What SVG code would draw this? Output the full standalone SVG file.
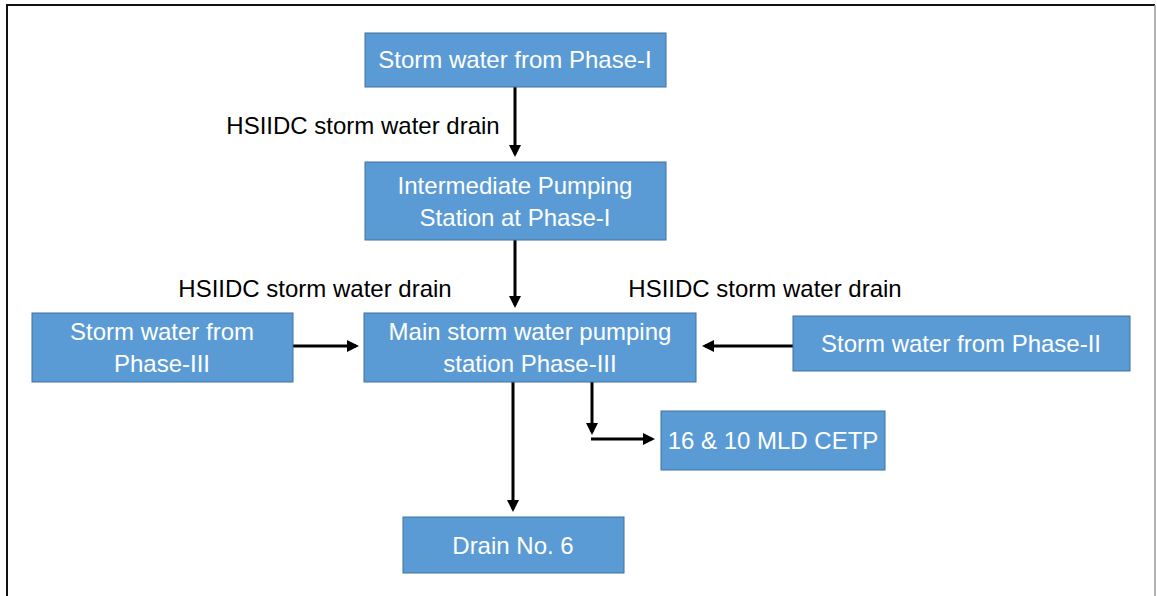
<svg xmlns="http://www.w3.org/2000/svg" width="1157" height="596" viewBox="0 0 1157 596">
<style>
.box{fill:#5B9BD5;stroke:#41719C;stroke-width:1}
.t{font-family:"Liberation Sans",Arial,sans-serif;font-size:24px;fill:#ffffff;text-anchor:middle}
.lbl{font-family:"Liberation Sans",Arial,sans-serif;font-size:24px;fill:#000000;text-anchor:middle}
.c{stroke:#000;stroke-width:3;fill:none}
</style>
<defs>
<marker id="ah" markerWidth="4" markerHeight="4" refX="3" refY="2" orient="auto" markerUnits="strokeWidth">
<path d="M0,0 L4,2 L0,4 Z" fill="#000"/>
</marker>
</defs>
<rect width="1157" height="596" fill="#fff"/>
<path d="M7,596 L7,5 L1155,5" stroke="#111" stroke-width="2" fill="none"/>
<line x1="1155" y1="5" x2="1155" y2="596" stroke="#999" stroke-width="1.5"/>

<g id="connectors">
<line class="c" x1="515" y1="87" x2="515" y2="154" marker-end="url(#ah)"/>
<line class="c" x1="515" y1="240" x2="515" y2="305" marker-end="url(#ah)"/>
<line class="c" x1="293" y1="346" x2="356" y2="346" marker-end="url(#ah)"/>
<line class="c" x1="793" y1="346" x2="705" y2="346" marker-end="url(#ah)"/>
<line class="c" x1="513" y1="382" x2="513" y2="509" marker-end="url(#ah)"/>
<line class="c" x1="592" y1="382" x2="592" y2="432" marker-end="url(#ah)"/>
<line class="c" x1="591" y1="439" x2="652" y2="439" marker-end="url(#ah)"/>
</g>

<g id="lbl1"><text class="lbl" x="363" y="134">HSIIDC storm water drain</text></g>
<g id="lbl2"><text class="lbl" x="315" y="297">HSIIDC storm water drain</text></g>
<g id="lbl3"><text class="lbl" x="765" y="297">HSIIDC storm water drain</text></g>

<g id="n1"><rect class="box" x="365" y="33" width="301" height="54"/><text class="t" x="515" y="68">Storm water from Phase-I</text></g>
<g id="n2"><rect class="box" x="365" y="162" width="301" height="78"/><text class="t" x="515" y="194">Intermediate Pumping</text><text class="t" x="515" y="226">Station at Phase-I</text></g>
<g id="n3"><rect class="box" x="364" y="313" width="332" height="69"/><text class="t" x="530" y="340">Main storm water pumping</text><text class="t" x="530" y="372">station Phase-III</text></g>
<g id="n4"><rect class="box" x="32" y="313" width="261" height="69"/><text class="t" x="162" y="340">Storm water from</text><text class="t" x="162" y="372">Phase-III</text></g>
<g id="n5"><rect class="box" x="793" y="316" width="337" height="55"/><text class="t" x="961" y="352">Storm water from Phase-II</text></g>
<g id="n6"><rect class="box" x="661" y="411" width="224" height="59"/><text class="t" x="773" y="449">16 &amp; 10 MLD CETP</text></g>
<g id="n7"><rect class="box" x="403" y="517" width="221" height="56"/><text class="t" x="513" y="554">Drain No. 6</text></g>
</svg>
